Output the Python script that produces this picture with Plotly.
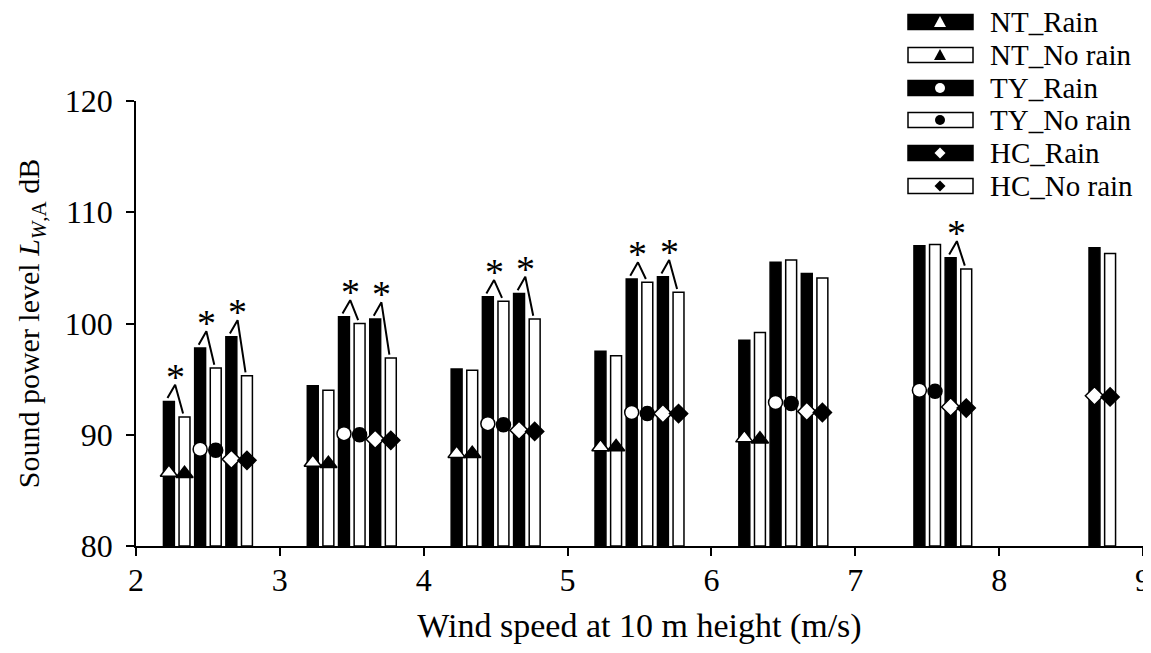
import plotly.graph_objects as go

# ---------------- data ----------------
wind = [2.5, 3.5, 4.5, 5.5, 6.5, 7.5, 8.5]

nt_rain = [93.0, 94.4, 95.9, 97.5, 98.5, None, None]
nt_norain = [91.6, 94.0, 95.8, 97.1, 99.2, None, None]
ty_rain = [97.8, 100.6, 102.4, 104.0, 105.5, 107.0, None]
ty_norain = [96.0, 100.0, 102.0, 103.7, 105.7, 107.1, None]
hc_rain = [98.8, 100.4, 102.7, 104.2, 104.5, 105.9, 106.8]
hc_norain = [95.3, 96.9, 100.4, 102.8, 104.1, 104.9, 106.3]

nt_rain_pt = [86.6, 87.5, 88.3, 88.9, 89.7, None, None]
nt_norain_pt = [86.5, 87.4, 88.3, 88.9, 89.6, None, None]
ty_rain_pt = [88.7, 90.1, 91.0, 92.0, 92.9, 94.0, None]
ty_norain_pt = [88.6, 90.0, 90.9, 91.9, 92.8, 93.9, None]
hc_rain_pt = [87.8, 89.6, 90.4, 91.9, 92.1, 92.5, 93.5]
hc_norain_pt = [87.7, 89.5, 90.3, 91.9, 92.0, 92.4, 93.4]

series_names = ["NT_Rain", "NT_No rain", "TY_Rain", "TY_No rain", "HC_Rain", "HC_No rain"]

# significant differences (rain vs no rain): wind speed group, site
sig_wind = [2.5, 2.5, 2.5, 3.5, 3.5, 4.5, 4.5, 5.5, 5.5, 7.5]
sig_site = ["NT", "TY", "HC", "TY", "HC", "TY", "HC", "TY", "HC", "HC"]

# ---------------- styling ----------------
bar_vals = [nt_rain, nt_norain, ty_rain, ty_norain, hc_rain, hc_norain]
pt_vals = [nt_rain_pt, nt_norain_pt, ty_rain_pt, ty_norain_pt, hc_rain_pt, hc_norain_pt]
symbols = ["triangle-up", "triangle-up", "circle", "circle", "diamond", "diamond"]
sym_size = [15, 15, 14, 14, 14, 14]
site_index = {"NT": 0, "TY": 2, "HC": 4}

BARGAP = 0.349
BARGROUPGAP = 0.30
slot = (1 - BARGAP) / 6
offsets = [(k - 2.5) * slot for k in range(6)]

FONT = "Liberation Serif"

fig = go.Figure()

for k in range(6):
    rain = (k % 2 == 0)
    fig.add_trace(go.Bar(
        x=wind, y=[None if v is None else v - 80 for v in bar_vals[k]], base=80,
        name=series_names[k], showlegend=False,
        marker=dict(color="black" if rain else "white",
                    line=dict(color="black", width=1.5)),
    ))

for k in range(6):
    rain = (k % 2 == 0)
    xs = [w + offsets[k] for w in wind]
    fig.add_trace(go.Scatter(
        x=xs, y=pt_vals[k], mode="markers", showlegend=False, cliponaxis=False,
        marker=dict(symbol=symbols[k], size=sym_size[k],
                    color="white" if rain else "black",
                    line=dict(color="black", width=1.5)),
    ))

# significance carets and asterisks
annotations = []
for w, s in zip(sig_wind, sig_site):
    i = wind.index(w)
    kr = site_index[s]
    top_r = bar_vals[kr][i]
    top_n = bar_vals[kr + 1][i]
    xr = w + offsets[kr]
    xn = w + offsets[kr + 1]
    ax = xr + 0.4 * slot
    ay = max(top_r, top_n) + 1.5
    fig.add_trace(go.Scatter(
        x=[xr - 0.01, ax, xn - 0.01], y=[top_r + 0.3, ay, top_n + 0.3],
        mode="lines", showlegend=False, cliponaxis=False,
        line=dict(color="black", width=2),
    ))
    annotations.append(dict(x=ax, y=ay, xref="x", yref="y", text="*",
                            showarrow=False, yanchor="middle", yshift=8,
                            font=dict(family=FONT, size=38, color="black")))

# ---------------- layout geometry (page has an 8px body margin) ----------------
OFF = 8
W, H = 1151 - OFF, 653 - 2 * OFF
L, T = 136 - OFF, 101 - OFF
pw, ph = 1007, 445
R, B = W - L - pw, H - T - ph


def px_x(p):  # screenshot pixel -> paper
    return (p - OFF - L) / pw


def px_y(p):
    return (T + ph - (p - OFF)) / ph


# ---------------- custom legend ----------------
rows = [22, 55, 88, 120, 153, 186]
shapes = []
MX = 940
for k in range(6):
    rain = (k % 2 == 0)
    cy = rows[k]
    mcol = "white" if rain else "black"
    shapes.append(dict(type="rect", xref="paper", yref="paper",
                       x0=px_x(908), x1=px_x(973), y0=px_y(cy + 7.5), y1=px_y(cy - 7.5),
                       fillcolor="black" if rain else "white",
                       line=dict(color="black", width=1.5)))
    if symbols[k] == "circle":
        r = 5
        shapes.append(dict(type="circle", xref="paper", yref="paper",
                           x0=px_x(MX - r), x1=px_x(MX + r), y0=px_y(cy + r), y1=px_y(cy - r),
                           fillcolor=mcol, line=dict(width=0)))
    else:
        if symbols[k] == "triangle-up":
            pts = [(MX - 6, cy + 5), (MX + 6, cy + 5), (MX, cy - 6)]
        else:
            pts = [(MX - 5.5, cy), (MX, cy - 5.5), (MX + 5.5, cy), (MX, cy + 5.5)]
        path = "M " + " L ".join(f"{px_x(a):.5f},{px_y(b):.5f}" for a, b in pts) + " Z"
        shapes.append(dict(type="path", xref="paper", yref="paper", path=path,
                           fillcolor=mcol, line=dict(width=0)))
    annotations.append(dict(x=px_x(988), y=px_y(cy), xref="paper", yref="paper",
                            text=series_names[k], showarrow=False,
                            xanchor="left", yanchor="middle",
                            font=dict(family=FONT, size=29, color="black")))

fig.update_layout(
    width=W, height=H,
    margin=dict(l=L, r=R, t=T, b=B, autoexpand=False),
    paper_bgcolor="white", plot_bgcolor="white",
    font=dict(family=FONT, size=30, color="black"),
    barmode="group", bargap=BARGAP, bargroupgap=BARGROUPGAP,
    showlegend=False,
    shapes=shapes,
    annotations=annotations,
    xaxis=dict(range=[2, 9], dtick=1, tick0=2, showgrid=False, zeroline=False,
               showline=True, linecolor="black", linewidth=1.5, automargin=False,
               ticks="outside", ticklen=8, tickwidth=1.5, tickcolor="black",
               tickfont=dict(family=FONT, size=32), ticklabelstandoff=-3,
               ticklabeloverflow="allow",
               title=dict(text="Wind speed at 10 m height (m/s)",
                          font=dict(family=FONT, size=34), standoff=19)),
    yaxis=dict(range=[80, 120], dtick=10, tick0=80, showgrid=False, zeroline=False,
               showline=True, linecolor="black", linewidth=1.5, automargin=False,
               ticks="outside", ticklen=8, tickwidth=1.5, tickcolor="black",
               tickfont=dict(family=FONT, size=32), ticklabelstandoff=7,
               title=dict(text="Sound power level <i>L</i><sub><i>W</i>,A</sub> dB",
                          font=dict(family=FONT, size=30), standoff=16)),
)

fig.write_html("out.html")
